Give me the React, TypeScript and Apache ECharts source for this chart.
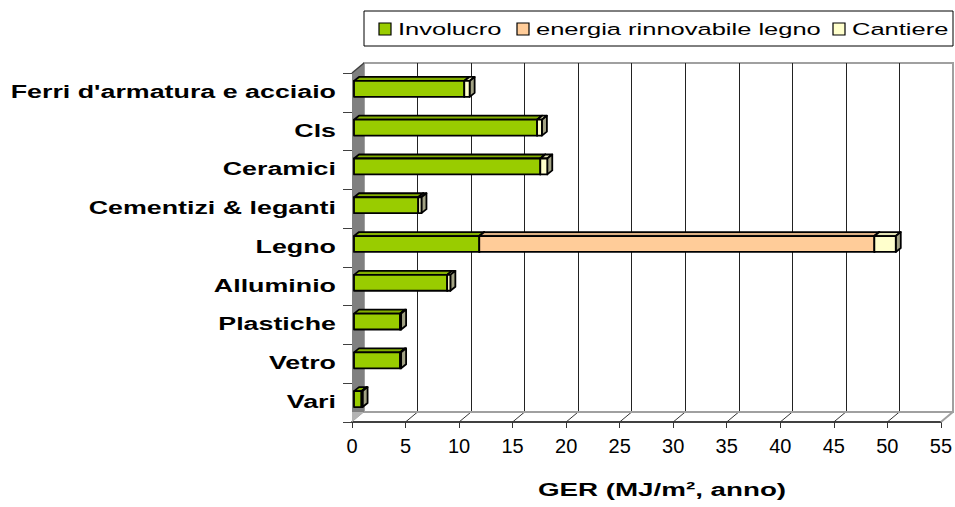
import React, { useEffect, useRef } from "react";
import * as echarts from "echarts";

// ---------- data ----------
const categories = [
  "Ferri d'armatura e acciaio",
  "Cls",
  "Ceramici",
  "Cementizi & leganti",
  "Legno",
  "Alluminio",
  "Plastiche",
  "Vetro",
  "Vari",
];
const seriesNames = ["Involucro", "energia rinnovabile legno", "Cantiere"];
const involucro = [10.3, 17.1, 17.4, 6.0, 11.7, 8.7, 4.3, 4.3, 0.7];
const energiaLegno = [0, 0, 0, 0, 36.9, 0, 0, 0, 0];
const cantiere = [0.5, 0.45, 0.65, 0.3, 2.0, 0.3, 0.1, 0.1, 0.1];
const xMin = 0;
const xMax = 55;
const xStep = 5;
const axisTitle = "GER (MJ/m\u00B2, anno)";

// ---------- style ----------
const FONT = "'Liberation Sans', Arial, sans-serif";
const SX = 1.5; // horizontal stretch of the reference's text
const LABEL_SX = 1.45;
const FRONT = { left: 352, top: 73, right: 14, bottom: 85 };
const DX = 12;
const DY = 10;
const BAR_SHIFT = [2, -3.5];
const BAR_DEPTH = [5, -4];
const BAR_FRAC = 0.41;

const colors = ["#99CC00", "#FFCC99", "#FFFFCC"];
const topColors = ["#84B000", "#DDB185", "#E2E2B4"];
const sideColors = ["#5E7D00", "#9E7E5E", "#A2A284"];

const valueSets = [involucro, energiaLegno, cantiere];

function segments(idx: number) {
  const out: number[][] = [];
  categories.forEach((_, c) => {
    let start = 0;
    for (let k = 0; k < idx; k++) start += valueSets[k][c];
    const v = valueSets[idx][c];
    if (v > 0) out.push([c, start, start + v]);
  });
  return out;
}

function makeBarRenderer(idx: number) {
  return (params: any, api: any) => {
    const cat = api.value(0);
    const s = api.value(1);
    const e = api.value(2);
    const p0 = api.coord([s, cat]);
    const p1 = api.coord([e, cat]);
    const band = api.size([0, 1])[1];
    const h = band * BAR_FRAC;
    const x0 = p0[0] + BAR_SHIFT[0];
    const x1 = p1[0] + BAR_SHIFT[0];
    const yc = p0[1] + BAR_SHIFT[1];
    const yt = yc - h / 2;
    const yb = yc + h / 2;
    const [dx, dy] = BAR_DEPTH;
    const stroke = { stroke: "#000", lineWidth: 1.8, lineJoin: "round" };
    return {
      type: "group",
      children: [
        {
          type: "polygon",
          shape: { points: [[x0, yt], [x0 + dx, yt + dy], [x1 + dx, yt + dy], [x1, yt]] },
          style: { fill: topColors[idx], ...stroke },
        },
        {
          type: "polygon",
          shape: { points: [[x1, yt], [x1 + dx, yt + dy], [x1 + dx, yb + dy], [x1, yb]] },
          style: { fill: sideColors[idx], ...stroke },
        },
        {
          type: "rect",
          shape: { x: x0, y: yt, width: x1 - x0, height: h },
          style: { fill: colors[idx], ...stroke },
        },
      ],
    };
  };
}

function renderFrame(params: any, api: any) {
  const cs = params.coordSys;
  const X0 = cs.x;
  const Y0 = cs.y;
  const X1 = cs.x + cs.width;
  const Y1 = cs.y + cs.height;
  const children: any[] = [];
  children.push({
    type: "polygon",
    shape: { points: [[X0, Y0], [X0 + DX, Y0 - DY], [X0 + DX, Y1 - DY], [X0, Y1]] },
    style: { fill: "#808080" },
  });
  children.push({
    type: "polygon",
    shape: { points: [[X0, Y1 - DY], [X0 + DX, Y1 - DY], [X0, Y1]] },
    style: { fill: "#B4B4B4" },
  });
  children.push({
    type: "line",
    shape: { x1: X0, y1: Y0, x2: X0 + DX, y2: Y0 - DY },
    style: { stroke: "#404040", lineWidth: 1.5 },
  });
  for (let v = xMin + xStep; v <= xMax; v += xStep) {
    const x = api.coord([v, 0])[0];
    children.push({
      type: "line",
      shape: { x1: x, y1: Y1, x2: x + DX, y2: Y1 - DY },
      style: { stroke: v === xMax ? "#A0A0A0" : "#333", lineWidth: v === xMax ? 2 : 1 },
    });
  }
  children.push({
    type: "line",
    shape: { x1: X0 + DX, y1: Y1 - DY, x2: X1 + DX, y2: Y1 - DY },
    style: { stroke: "#A0A0A0", lineWidth: 2 },
  });
  return { type: "group", children };
}

function renderLabel(params: any, api: any) {
  const i = api.value(1);
  const p = api.coord([0, i]);
  return {
    type: "text",
    x: params.coordSys.x - 16,
    y: p[1] - 1,
    scaleX: LABEL_SX,
    silent: true,
    style: {
      text: categories[i],
      fill: "#000",
      fontSize: 18.5,
      fontWeight: "bold",
      fontFamily: FONT,
      align: "right",
      verticalAlign: "middle",
    },
  };
}

const legendLayout = [
  { sq: 379, tx: 398 },
  { sq: 517, tx: 536 },
  { sq: 833, tx: 852 },
];

export default function App() {
  const ref = useRef<HTMLDivElement>(null);
  useEffect(() => {
    if (!ref.current) return;
    const chart = echarts.init(ref.current, undefined, { renderer: "svg" });

    const legendGraphic: any[] = [
      {
        type: "rect",
        shape: { x: 364, y: 11, width: 589, height: 35 },
        style: { fill: "#fff", stroke: "#000", lineWidth: 1 },
      },
    ];
    seriesNames.forEach((name, i) => {
      legendGraphic.push({
        type: "rect",
        shape: { x: legendLayout[i].sq, y: 23, width: 12, height: 12 },
        style: { fill: colors[i], stroke: "#000", lineWidth: 1.2 },
      });
      legendGraphic.push({
        type: "text",
        x: legendLayout[i].tx,
        y: 29,
        scaleX: SX,
        style: {
          text: name,
          fill: "#000",
          fontSize: 17,
          fontFamily: FONT,
          align: "left",
          verticalAlign: "middle",
        },
      });
    });

    const option: any = {
      animation: false,
      backgroundColor: "#fff",
      grid: [
        {
          left: FRONT.left + DX,
          top: FRONT.top - DY,
          right: FRONT.right - DX,
          bottom: FRONT.bottom + DY,
          show: true,
          borderColor: "#A0A0A0",
          borderWidth: 2,
          backgroundColor: "transparent",
        },
        { left: FRONT.left, top: FRONT.top, right: FRONT.right, bottom: FRONT.bottom },
      ],
      xAxis: [
        {
          gridIndex: 0,
          type: "value",
          min: xMin,
          max: xMax,
          interval: xStep,
          axisLine: { show: false },
          axisTick: { show: false },
          axisLabel: { show: false },
          splitLine: {
            show: true,
            showMinLine: false,
            showMaxLine: false,
            lineStyle: { color: "#222", width: 1 },
          },
        },
        {
          gridIndex: 1,
          type: "value",
          min: xMin,
          max: xMax,
          interval: xStep,
          axisLine: { show: true, lineStyle: { color: "#404040", width: 2 } },
          axisTick: { show: true, length: 6, lineStyle: { color: "#333", width: 1 } },
          axisLabel: { fontSize: 20, color: "#000", fontFamily: FONT, margin: 14 },
          splitLine: { show: false },
        },
      ],
      yAxis: [
        { gridIndex: 0, type: "category", data: categories, inverse: true, show: false },
        {
          gridIndex: 1,
          type: "category",
          data: categories,
          inverse: true,
          axisLine: { show: true, lineStyle: { color: "#404040", width: 1 } },
          axisTick: { show: true, length: 9, interval: 0, lineStyle: { color: "#404040" } },
          axisLabel: { show: false },
          splitLine: { show: false },
        },
      ],
      graphic: [
        ...legendGraphic,
        {
          type: "text",
          x: 662,
          y: 490,
          scaleX: SX,
          style: {
            text: axisTitle,
            fill: "#000",
            fontSize: 18.5,
            fontWeight: "bold",
            fontFamily: FONT,
            align: "center",
            verticalAlign: "middle",
          },
        },
      ],
      series: [
        {
          type: "custom",
          name: "frame",
          xAxisIndex: 1,
          yAxisIndex: 1,
          z: 1,
          silent: true,
          data: [[0, 0]],
          encode: { x: 0, y: 1 },
          renderItem: renderFrame,
        },
        ...seriesNames.map((name, i) => ({
          type: "custom",
          name,
          xAxisIndex: 1,
          yAxisIndex: 1,
          z: 2,
          itemStyle: { color: colors[i] },
          data: segments(i),
          encode: { x: [1, 2], y: 0 },
          renderItem: makeBarRenderer(i),
        })),
        {
          type: "custom",
          name: "labels",
          xAxisIndex: 1,
          yAxisIndex: 1,
          z: 3,
          silent: true,
          data: categories.map((_, i) => [0, i]),
          encode: { x: 0, y: 1 },
          renderItem: renderLabel,
        },
      ],
    };
    chart.setOption(option);
    return () => chart.dispose();
  }, []);
  return (
    <div
      ref={ref}
      style={{ position: "absolute", left: 0, top: 0, width: 955, height: 507 }}
    />
  );
}
